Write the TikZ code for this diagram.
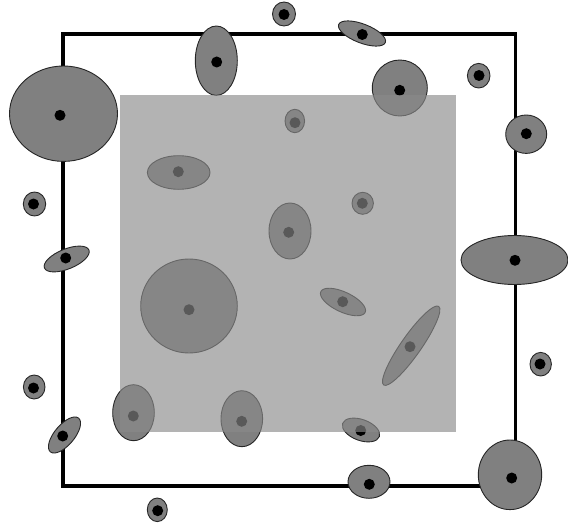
\documentclass[tikz,border=0pt]{standalone}
\definecolor{cellfill}{RGB}{128,128,128}
\definecolor{sqfill}{RGB}{138,138,138}
\tikzset{
  frameline/.style={line width=3.6pt, line join=miter, black},
  cellbody/.style={fill=cellfill, draw=black!85, line width=0.9pt},
  nucleus/.style={fill=black},
  overlay/.style={fill=sqfill, fill opacity=0.65}
}
\begin{document}
\begin{tikzpicture}[x=1pt,y=-1pt]
\useasboundingbox (0,0) rectangle (568,527);
% outer frame
\draw[frameline] (63,34) rectangle (515.5,485.7);
% cells: cx/cy/rx/ry/angle/dot x/dot y
\foreach \cx/\cy/\rx/\ry/\ang/\dx/\dy in {
  63.5/113.7/54/47.7/0/60/115.3,
  216.3/60.7/21/34.7/0/216.7/62,
  284/14/11.5/12/0/284/14.5,
  362/33.5/25/9.5/-21/362.3/34.5,
  399.8/88/27.5/28/0/399.7/90.3,
  478.7/75.7/11.3/12.3/0/479/75.5,
  526.2/134.2/20.5/19.2/0/526.3/133.7,
  514.5/260/53.5/24.5/0/515/260.3,
  540.7/364.2/10.7/11.8/0/540/364,
  510/474.8/31.7/34.8/0/511.7/478,
  369/481.8/21/16.5/0/369.3/484.3,
  361/430/19.5/10.5/-20/360.7/430.5,
  157.3/509.8/10/11.8/0/157.7/510.7,
  64.5/435/22/10/50/62.7/436,
  34.2/387/10.8/12/0/33.5/388,
  34.5/204/11.2/12/0/33.5/204,
  66.7/259/24/10/22/65.7/258,
  178.7/172.5/31.3/16.8/0/178.3/171.7,
  294.8/121/9.8/11.7/0/295/122.7,
  362.7/203.3/10.7/11/0/362.3/203.3,
  290/231/21/28/0/288.7/232.3,
  189/306/48.3/47/0/189/309.7,
  343/302/24.5/10/-25/342.7/301.7,
  411.2/345.7/48/10/55/410/346.7,
  133.5/412.7/20.8/28/0/133.3/416,
  241.8/418.7/20.8/28/0/241.7/421.3}
{
  \begin{scope}[shift={(\cx,\cy)}]
    \draw[cellbody, rotate=\ang] (0,0) ellipse [x radius=\rx pt, y radius=\ry pt];
  \end{scope}
  \fill[nucleus] (\dx,\dy) circle [radius=5.5pt];
}
% translucent inner square
\fill[overlay] (120,94.7) rectangle (456.3,432.3);
\end{tikzpicture}
\end{document}
